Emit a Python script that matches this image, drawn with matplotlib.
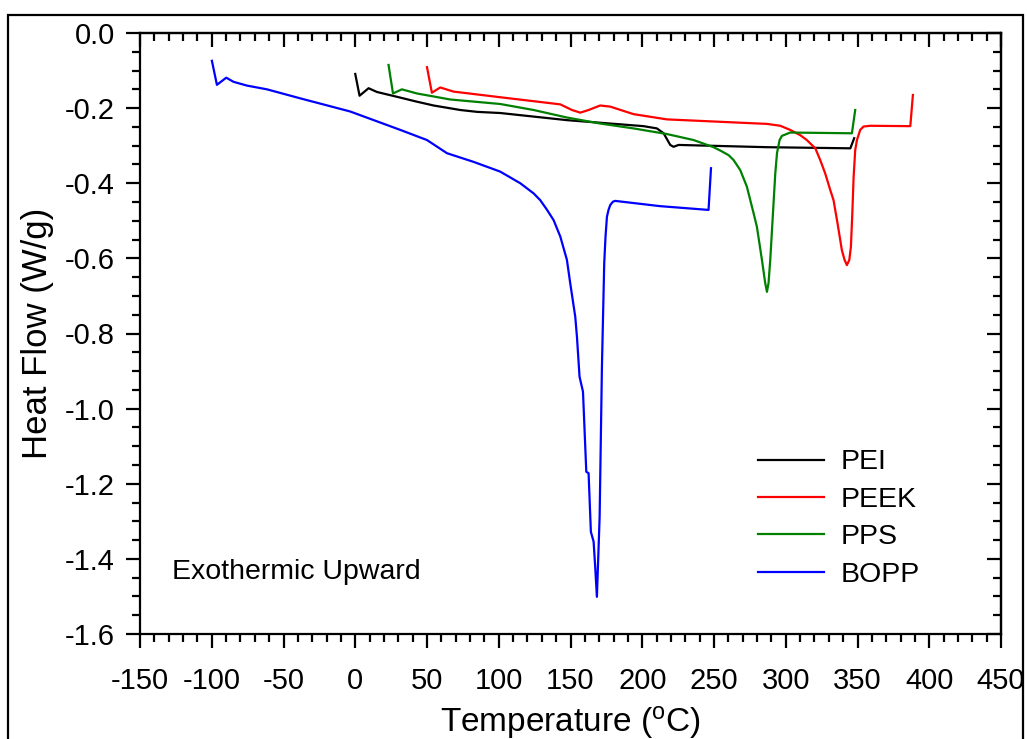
import matplotlib
matplotlib.use("Agg")
import matplotlib.pyplot as plt
from matplotlib.ticker import MultipleLocator, FormatStrFormatter
from matplotlib.patches import Rectangle

plt.rcParams['font.family'] = ['Liberation Sans', 'DejaVu Sans']
plt.rcParams['axes.unicode_minus'] = False

# ---- data ----
pei_t = [0.0, 3.0, 9.3, 15.1, 31.4, 42.0, 54.6, 73.2, 85.0, 101, 147.5, 200.9, 210.2, 214.9,
         219.5, 221.8, 225.3, 286.9, 345.0, 347.7]
pei_hf = [-0.109, -0.167, -0.147, -0.157, -0.172, -0.182, -0.193, -0.205, -0.210, -0.213,
          -0.232, -0.248, -0.254, -0.267, -0.298, -0.303, -0.298, -0.304, -0.307, -0.280]

peek_t = [50.0, 53.4, 59.2, 68.5, 101, 142.9, 151.0, 156.8, 162.6, 170.7, 177.7, 193.9,
          217.2, 263.6, 286.9, 296.2, 303.1, 310.1, 314.7, 320.6, 324.0, 327.5, 331.0,
          333.3, 336.1, 339.1, 341.0, 342.6, 344.3, 345.4, 346.3, 347.3, 348.4, 349.6,
          351.9, 354.2, 358.9, 386.8, 388.6]
peek_hf = [-0.091, -0.159, -0.145, -0.156, -0.171, -0.190, -0.205, -0.212, -0.205, -0.193,
           -0.196, -0.216, -0.230, -0.238, -0.242, -0.247, -0.258, -0.272, -0.285, -0.307,
           -0.338, -0.374, -0.418, -0.445, -0.507, -0.578, -0.604, -0.618, -0.604, -0.569,
           -0.489, -0.383, -0.312, -0.285, -0.258, -0.249, -0.247, -0.248, -0.165]

pps_t = [23.2, 26.3, 32.5, 43.0, 66.2, 101, 124.3, 147.5, 170.7, 193.9, 217.2, 235.8,
         249.7, 254.4, 260.1, 263.6, 268.3, 272.9, 277.6, 279.9, 283.4, 285.7, 286.9,
         288.0, 289.2, 291.5, 292.7, 293.9, 295.7, 297.3, 303.1, 346.1, 348.4]
pps_hf = [-0.085, -0.161, -0.150, -0.161, -0.177, -0.189, -0.205, -0.225, -0.241, -0.254,
          -0.269, -0.285, -0.304, -0.313, -0.325, -0.338, -0.365, -0.409, -0.480, -0.516,
          -0.604, -0.666, -0.689, -0.666, -0.604, -0.453, -0.374, -0.320, -0.285, -0.274,
          -0.265, -0.267, -0.205]

bopp_t = [-99.9, -96.4, -89.9, -84.8, -75.5, -61.5, -38.3, -3.5, 31.4, 50.0, 63.9, 82.4,
          101, 115.0, 124.3, 128.9, 133.5, 138.2, 142.9, 147.5, 149.8, 153.3, 154.5, 156.3,
          158.7, 161.0, 162.6, 164.2, 166.1, 167.2, 168.4, 170.3, 171.9, 173.5, 174.4,
          175.4, 176.5, 177.7, 179.6, 181.2, 212.5, 246.2, 247.9]
bopp_hf = [-0.074, -0.138, -0.119, -0.130, -0.140, -0.150, -0.174, -0.209, -0.258, -0.285,
           -0.320, -0.343, -0.369, -0.400, -0.427, -0.445, -0.470, -0.498, -0.542, -0.604,
           -0.666, -0.755, -0.809, -0.915, -0.955, -1.168, -1.172, -1.328, -1.354, -1.421,
           -1.501, -1.288, -0.888, -0.613, -0.542, -0.489, -0.471, -0.458, -0.449, -0.447,
           -0.461, -0.471, -0.360]

labels = ['PEI', 'PEEK', 'PPS', 'BOPP']
colors = ['black', 'red', 'green', 'blue']
x_ticks = list(range(-150, 451, 50))
y_ticks = [0.0, -0.2, -0.4, -0.6, -0.8, -1.0, -1.2, -1.4, -1.6]

# ---- figure ----
fig = plt.figure(figsize=(10.27, 7.39), dpi=100)
ax = fig.add_axes([140 / 1027, 1 - 634 / 739, 861 / 1027, 601 / 739])

series = [(pei_t, pei_hf), (peek_t, peek_hf), (pps_t, pps_hf), (bopp_t, bopp_hf)]
for (t, hf), lab, c in zip(series, labels, colors):
    ax.plot(t, hf, color=c, lw=1.6, label=lab, solid_joinstyle='round')

ax.set_xlim(-150, 450)
ax.set_ylim(-1.6, 0.0)
ax.set_xticks(x_ticks)
ax.set_yticks(y_ticks)
ax.yaxis.set_major_formatter(FormatStrFormatter('%.1f'))
ax.xaxis.set_minor_locator(MultipleLocator(10))
ax.yaxis.set_minor_locator(MultipleLocator(0.05))
for s in ax.spines.values():
    s.set_linewidth(1.6)
ax.tick_params(which='major', direction='out', length=10, width=1.6, labelsize=21, pad=8)
ax.tick_params(which='minor', direction='out', length=5.5, width=1.6)
ax.tick_params(axis='x', which='major', pad=14)

# top / right ticks point inward
axt = ax.secondary_xaxis('top')
axt.set_xticks(x_ticks)
axt.xaxis.set_minor_locator(MultipleLocator(10))
axt.tick_params(which='major', direction='in', length=10, width=1.6, labeltop=False)
axt.tick_params(which='minor', direction='in', length=5.5, width=1.6)
axt.spines['top'].set_linewidth(1.6)
axr = ax.secondary_yaxis('right')
axr.set_yticks(y_ticks)
axr.yaxis.set_minor_locator(MultipleLocator(0.05))
axr.tick_params(which='major', direction='in', length=10, width=1.6, labelright=False)
axr.tick_params(which='minor', direction='in', length=5.5, width=1.6)
axr.spines['right'].set_linewidth(1.6)

ax.set_xlabel('Temperature ($\\mathregular{^{o}}$C)', fontsize=24, labelpad=6)
ax.set_ylabel('Heat Flow (W/g)', fontsize=25, labelpad=8)

ax.text(-127.5, -1.435, 'Exothermic Upward', fontsize=20.5, va='center', ha='left')

ax.legend(loc='upper left', bbox_to_anchor=(0.718, 0.307), frameon=False, fontsize=20.5,
          handlelength=2.3, handletextpad=0.6, labelspacing=0.4, borderpad=0,
          borderaxespad=0)

fig.add_artist(Rectangle((8 / 1027, -0.05), 1015 / 1027, 1.05 - 15 / 739,
                         transform=fig.transFigure, fill=False, lw=1.6, ec='black'))

fig.savefig('out.png', dpi=100)
